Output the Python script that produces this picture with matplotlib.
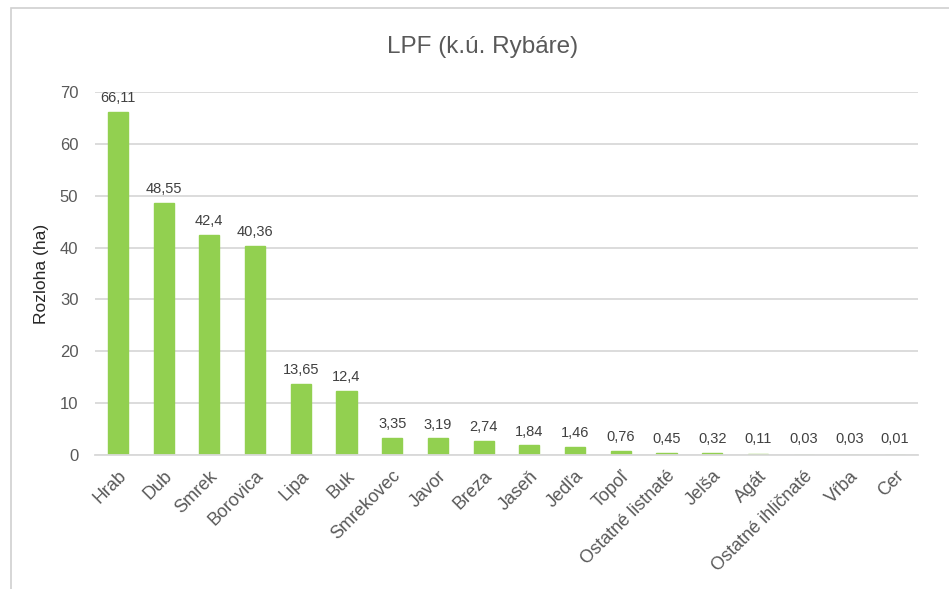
import matplotlib
matplotlib.use("Agg")
import matplotlib.pyplot as plt
from matplotlib.patches import Rectangle

categories = ["Hrab", "Dub", "Smrek", "Borovica", "Lipa", "Buk", "Smrekovec", "Javor",
              "Breza", "Jaseň", "Jedľa", "Topoľ", "Ostatné listnaté", "Jelša", "Agát",
              "Ostatné ihličnaté", "Vŕba", "Cer"]
values = [66.11, 48.55, 42.4, 40.36, 13.65, 12.4, 3.35, 3.19, 2.74, 1.84, 1.46,
          0.76, 0.45, 0.32, 0.11, 0.03, 0.03, 0.01]
yticks = [0, 10, 20, 30, 40, 50, 60, 70]

plt.rcParams['font.family'] = ['Liberation Sans', 'DejaVu Sans']

W, H = 949, 589
fig = plt.figure(figsize=(W/100, H/100), dpi=100)
fig.patch.set_facecolor('white')

# outer frame (chart border partially visible)
fig.add_artist(Rectangle((11/W, -0.1), 1.2, 1 - 8/H + 0.1, transform=fig.transFigure,
                         fill=False, edgecolor='#D0D0D0', linewidth=1.2))

left, right = 95/W, 918/W
bottom, top = 1 - 455/H, 1 - 92/H
ax = fig.add_axes([left, bottom, right-left, top-bottom])

x = list(range(len(categories)))
ax.bar(x, values, width=0.44, color='#92D050', edgecolor='#92D050', linewidth=1.0, zorder=3)
for xi, v in zip(x, values):
    lbl = f"{v:g}".replace('.', ',')
    ax.annotate(lbl, (xi, max(v, 0.3)), xytext=(0, 5), textcoords='offset points',
                ha='center', va='bottom', fontsize=10.5, color='#404040', zorder=4)

ax.set_xlim(-0.5, len(categories) - 0.5)
ax.set_ylim(0, 70)
ax.set_yticks(yticks)
ax.set_yticklabels([str(t) for t in yticks], fontsize=12, color='#595959')
ax.yaxis.grid(True, color='#D9D9D9', linewidth=1.3, zorder=0)
ax.set_axisbelow(True)
for s in ['top', 'right', 'left']:
    ax.spines[s].set_visible(False)
ax.spines['bottom'].set_color('#D9D9D9')
ax.spines['bottom'].set_linewidth(1.3)
ax.spines['bottom'].set_zorder(4)
ax.tick_params(axis='both', length=0)
ax.tick_params(axis='y', pad=12)
ax.set_xticks(x)
ax.set_xticklabels(categories, rotation=45, ha='right', rotation_mode='anchor',
                   fontsize=13, color='#595959')
ax.tick_params(axis='x', pad=9)

ax.set_ylabel("Rozloha (ha)", fontsize=12.5, color='#262626', labelpad=8)
fig.text(483/W, 1 - 47/H, "LPF (k.ú. Rybáre)", ha='center', va='center',
         fontsize=17.5, color='#595959')

fig.savefig("out.png", dpi=100, facecolor='white')
